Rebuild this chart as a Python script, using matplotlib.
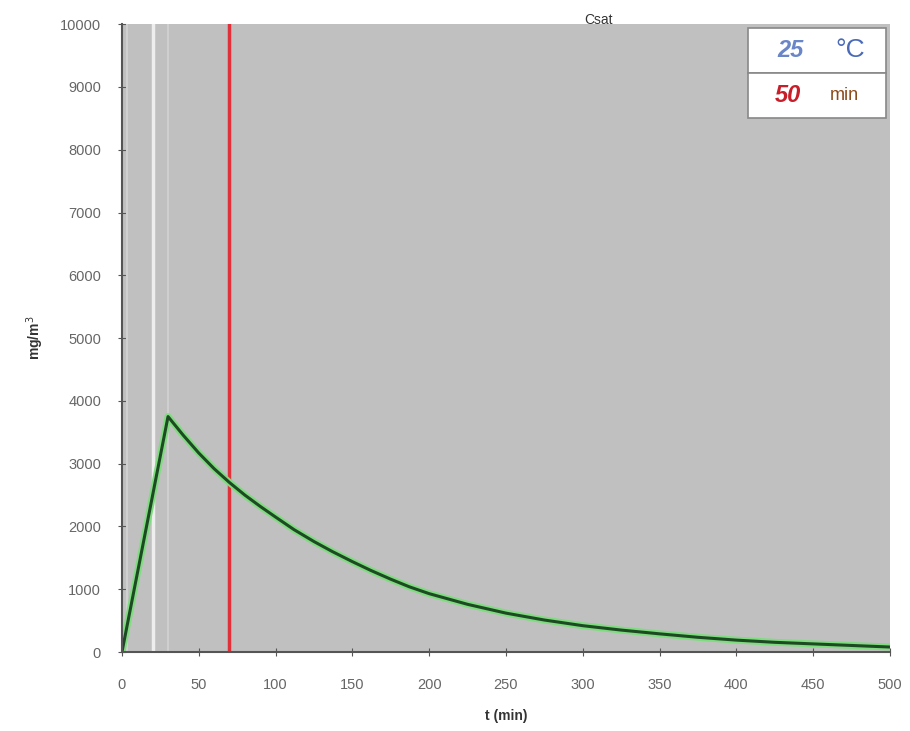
import matplotlib
matplotlib.use('Agg')
import matplotlib.pyplot as plt
from matplotlib.patches import Rectangle

plt.rcParams['font.family'] = ['Liberation Sans', 'DejaVu Sans']

# Concentration curve
t_min = [0, 10, 20, 30, 40, 50, 60, 70, 80, 90, 100, 112, 125, 137, 150, 162, 175, 187,
         200, 225, 250, 275, 300, 325, 350, 375, 400, 425, 450, 475, 500]
conc = [0, 1250, 2500, 3750, 3450, 3170, 2920, 2700, 2500, 2320, 2150, 1950, 1760, 1600,
        1440, 1300, 1160, 1040, 930, 760, 620, 510, 420, 350, 290, 235, 190, 155, 130, 105, 80]

marker_lines = [3, 20, 30]   # faint white guides
t_red = 70                   # red time marker
temp_label = '25'
time_label = '50'

fig = plt.figure(figsize=(9.1, 7.31), dpi=100)
ax = fig.add_axes([0.134, 0.108, 0.844, 0.859])
ax.set_facecolor('#c0c0c0')

ax.axvline(marker_lines[0], color='#d0d0d0', lw=1.5)
ax.axvline(marker_lines[1], color='#eeeeee', lw=2.5)
ax.axvline(marker_lines[2], color='#cfcfcf', lw=1.5)
ax.axvline(t_red, color='#e0303a', lw=2.5)

ax.plot(t_min, conc, color='#7fdc7f', lw=5, solid_capstyle='round', solid_joinstyle='round')
ax.plot(t_min, conc, color='#1d4a22', lw=2.2, solid_joinstyle='round')

ax.set_xlim(0, 500)
ax.set_ylim(0, 10000)
ax.set_xticks(range(0, 501, 50))
ax.set_yticks(range(0, 10001, 1000))
ax.tick_params(direction='inout', length=6, colors='#555555', labelcolor='#666666',
               labelsize=10.5)
ax.tick_params(axis='x', pad=16)
ax.tick_params(axis='y', pad=12)
for s in ['top', 'right']:
    ax.spines[s].set_visible(False)
for s in ['left', 'bottom']:
    ax.spines[s].set_color('#555555')
    ax.spines[s].set_linewidth(1.5)

ax.set_xlabel('t (min)', fontsize=10, fontweight='bold', color='#333333', labelpad=12)
ax.set_ylabel('mg/m$^3$', fontsize=10, fontweight='bold', color='#333333', labelpad=10)
ax.text(0.62, 1.006, 'Csat', transform=ax.transAxes, ha='center', va='center',
        fontsize=10, color='#333333')

# Info box top right
ax.add_patch(Rectangle((0.815, 0.922), 0.18, 0.072, transform=ax.transAxes,
                       facecolor='white', edgecolor='#888888', lw=1.2, zorder=5))
ax.add_patch(Rectangle((0.815, 0.85), 0.18, 0.072, transform=ax.transAxes,
                       facecolor='white', edgecolor='#888888', lw=1.2, zorder=5))
ax.text(0.871, 0.958, temp_label, transform=ax.transAxes, ha='center', va='center',
        fontsize=17, fontweight='bold', style='italic', color='#6a86c8', zorder=6)
ax.text(0.948, 0.958, '°C', transform=ax.transAxes, ha='center', va='center',
        fontsize=19, color='#4a6ab8', zorder=6)
ax.text(0.867, 0.886, time_label, transform=ax.transAxes, ha='center', va='center',
        fontsize=17, fontweight='bold', style='italic', color='#c81e2a', zorder=6)
ax.text(0.94, 0.886, 'min', transform=ax.transAxes, ha='center', va='center',
        fontsize=13, color='#8a4a1a', zorder=6)

fig.savefig('out.png', dpi=100)
